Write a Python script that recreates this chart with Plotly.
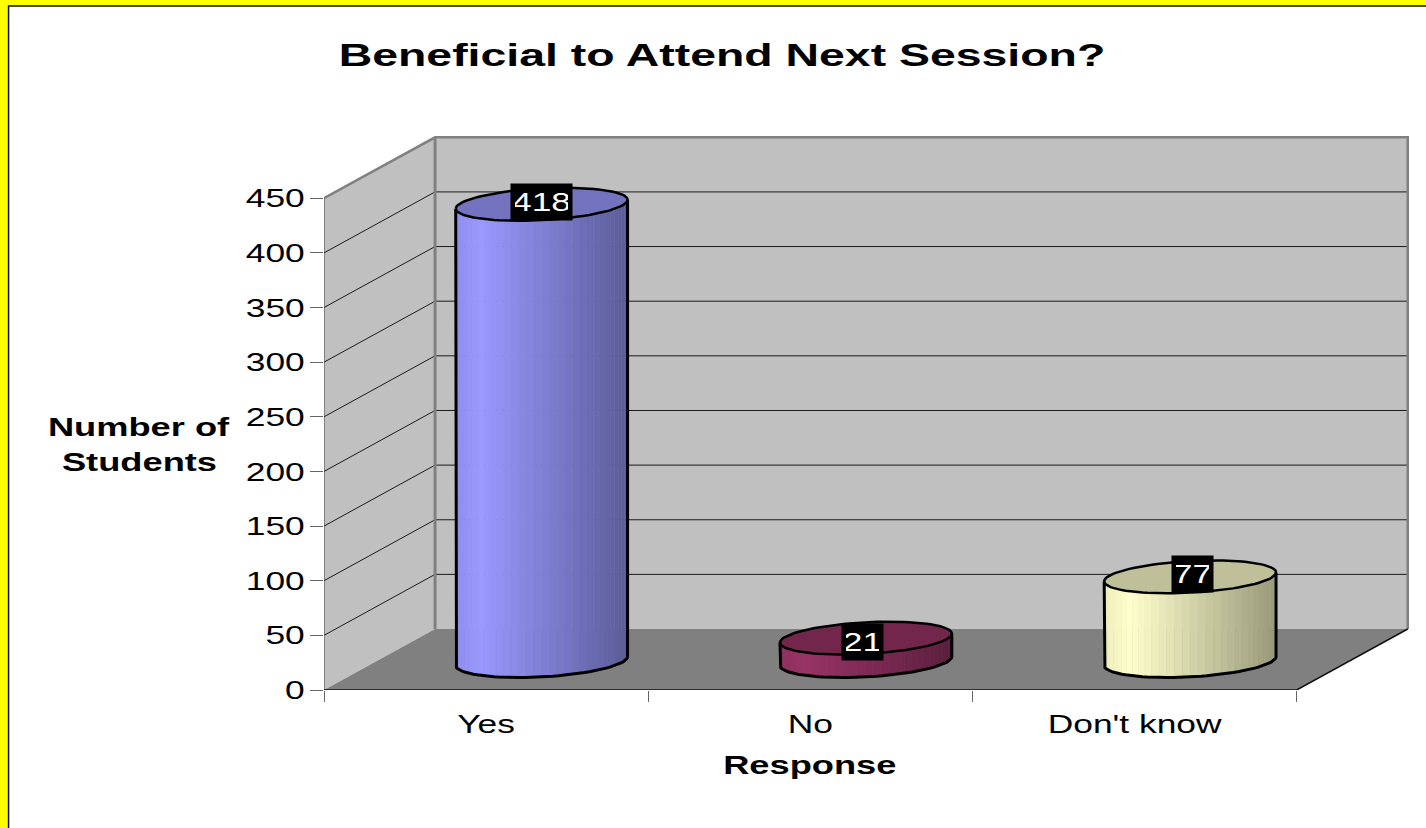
import math
import plotly.graph_objects as go

categories = ["Yes", "No", "Don't know"]
values = [418, 21, 77]
bar_colors = [(153, 153, 255), (153, 51, 102), (255, 255, 204)]
y_ticks = [0, 50, 100, 150, 200, 250, 300, 350, 400, 450]
title_text = "Beneficial to Attend Next Session?"
y_title_lines = ["Number of", "Students"]
x_title = "Response"

FONT = "Liberation Sans, Arial, sans-serif"
W, H = 1426, 828
L, B = 324, 690.3
DX = 0.3425          # depth of the box in category units
DY = 55.8            # depth of the box in value units
PAD_X, PAD_Y = 0.01, 3   # room beyond the walls so their edges are not clipped
R = 1408 + 3.24
T = 137 - 3.28
YMAX = 450 + DY
HALF_W = 0.265       # cylinder half width
ELL_B = 14.5         # ellipse half height in value units
SHEAR = 4.1          # tilt of the ellipse in value units
BASE = DY * 0.475
N = 34
LABEL_XSHIFT = [0, -3, 2]
LABEL_YSHIFT = [2, -4, 3]

fig = go.Figure()


def poly(xs, ys, fill=None, line=None, width=0):
    fig.add_trace(go.Scatter(
        x=xs, y=ys, mode="lines", fill="toself" if fill else None,
        fillcolor=fill, line=dict(color=line or "rgba(0,0,0,0)", width=width),
        hoverinfo="skip", showlegend=False, cliponaxis=False))


def shade(c, f):
    return "rgb(%d,%d,%d)" % tuple(min(255, round(v * f)) for v in c)


# walls and floor
poly([0, 0, DX, DX, 0], [0, 450, YMAX, DY, 0], fill="#C0C0C0")
poly([DX, DX, 3 + DX, 3 + DX, DX], [DY, YMAX, YMAX, DY, DY], fill="#C0C0C0")
poly([0, DX, 3 + DX, 3, 0], [0, DY, DY, 0, 0], fill="#808080")

# gridlines
for t in y_ticks[1:-1]:
    poly([0, DX, 3 + DX], [t, t + DY, t + DY], line="#1a1a1a", width=1)

# wall edges
poly([0, DX, 3 + DX, 3 + DX], [450, YMAX, YMAX, DY], line="#808080", width=2.5)
poly([DX, DX], [DY, YMAX], line="#808080", width=3)
poly([0, 0], [0, 450], line="#444444", width=1)
poly([0, 3, 3 + DX], [0, 0, DY], line="#111111", width=1.5)

# cylinders
for i, (v, c) in enumerate(zip(values, bar_colors)):
    cx = i + 0.5 + DX / 2
    for j in range(N):
        a0 = math.pi * j / N
        a1 = math.pi * (j + 1) / N
        u0, u1 = -math.cos(a0), -math.cos(a1)
        um = (u0 + u1) / 2
        f = 0.93 + 0.07 * (um + 1) / 0.3 if um < -0.7 else 1 - 0.4 * (um + 0.7) / 1.7
        col = shade(c, f)
        sub = [k / 3 for k in range(4)]
        us = [u0 + (u1 - u0) * k for k in sub]
        angs = [a0 + (a1 - a0) * k for k in sub]
        xb = [cx + HALF_W * u for u in us]
        yb = [BASE + SHEAR * u - ELL_B * math.sin(a) for u, a in zip(us, angs)]
        poly(xb + xb[::-1] + xb[:1],
             [y + v for y in yb] + yb[::-1] + [yb[0] + v],
             fill=col, line=col, width=0.5)
    angs = [2 * math.pi * k / 96 for k in range(97)]
    ex = [cx - HALF_W * math.cos(a) for a in angs]
    ey = [BASE + v - SHEAR * math.cos(a) - ELL_B * math.sin(a) for a in angs]
    poly(ex, ey, fill=shade(c, 0.75), line="#000000", width=2.5)
    low = [math.pi * k / 48 for k in range(49)]
    ox = [cx - HALF_W * math.cos(a) for a in low]
    oy = [BASE - SHEAR * math.cos(a) - ELL_B * math.sin(a) for a in low]
    poly([ox[0]] + ox + [ox[-1]], [oy[0] + v] + oy + [oy[-1] + v], line="#000000", width=3)
    fig.add_annotation(x=cx, y=BASE + v, text=str(v), showarrow=False, xanchor="center",
                       yanchor="middle", xshift=LABEL_XSHIFT[i], yshift=LABEL_YSHIFT[i],
                       bgcolor="#000000", borderpad=4,
                       width=(33 + 20 * (len(str(v)) - 2)), height=28, align="center",
                       font=dict(family=FONT, size=26, color="#FFFFFF"))


def pos(px, py):
    return (px - L) / (R - L), (B - py) / (B - T)


for text, py in zip(y_title_lines, [427, 462]):
    x0, y0 = pos(139, py)
    fig.add_annotation(xref="paper", yref="paper", x=x0, y=y0, text=text, showarrow=False,
                       xanchor="center", yanchor="middle",
                       font=dict(family=FONT, size=25, color="#000000", weight="bold"))
x0, y0 = pos(810, 765)
fig.add_annotation(xref="paper", yref="paper", x=x0, y=y0, text=x_title, showarrow=False,
                   xanchor="center", yanchor="middle",
                   font=dict(family=FONT, size=25, color="#000000", weight="bold"))

fig.add_shape(type="rect", xref="paper", yref="paper", layer="below",
              x0=(8.5 - L) / (R - L), x1=(W + 20 - L) / (R - L),
              y0=(B - H - 20) / (B - T), y1=(B - 5.5) / (B - T),
              fillcolor="#FFFFFF", line=dict(color="#111111", width=1.5))

fig.update_layout(
    width=W, height=H,
    paper_bgcolor="#FFFF00", plot_bgcolor="rgba(0,0,0,0)",
    margin=dict(l=L, r=W - R, t=T, b=H - B, autoexpand=False),
    showlegend=False,
    title=dict(text=title_text, xref="container", yref="container", x=722 / W,
               y=1 - 55 / H, xanchor="center", yanchor="middle",
               font=dict(family=FONT, size=32, color="#000000", weight="bold")),
    xaxis=dict(range=[0, 3 + DX + PAD_X], tickmode="array", tickvals=[i + 0.5 for i in range(3)],
               ticktext=categories, ticks="outside", ticklen=11, tickcolor="rgba(0,0,0,0)",
               showgrid=False, zeroline=False, showline=False,
               minor=dict(tickmode="array", tickvals=[0, 1, 2, 3], ticks="outside", ticklen=11,
                          tickcolor="#666666", tickwidth=1, showgrid=False),
               tickfont=dict(family=FONT, size=26, color="#000000")),
    yaxis=dict(range=[0, YMAX + PAD_Y], tickmode="array", tickvals=y_ticks, ticks="outside",
               ticklen=13, tickcolor="#666666", showgrid=False, zeroline=False, showline=False,
               tickfont=dict(family=FONT, size=26, color="#000000")),
)

# The reference's text is horizontally stretched; widen the real SVG text the same way.
stretch = """
document.body.style.margin='0';
document.documentElement.style.overflow='hidden';
document.querySelectorAll('.main-svg text').forEach(function(t){
  var bold = String(t.style.fontWeight||'').match(/bold|700/);
  var k = bold ? 1.45 : 1.36;
  t.setAttribute('textLength', t.getComputedTextLength()*k);
  t.setAttribute('lengthAdjust','spacingAndGlyphs');
});
"""
fig.write_html("out.html", post_script=stretch, config={"displayModeBar": False})
